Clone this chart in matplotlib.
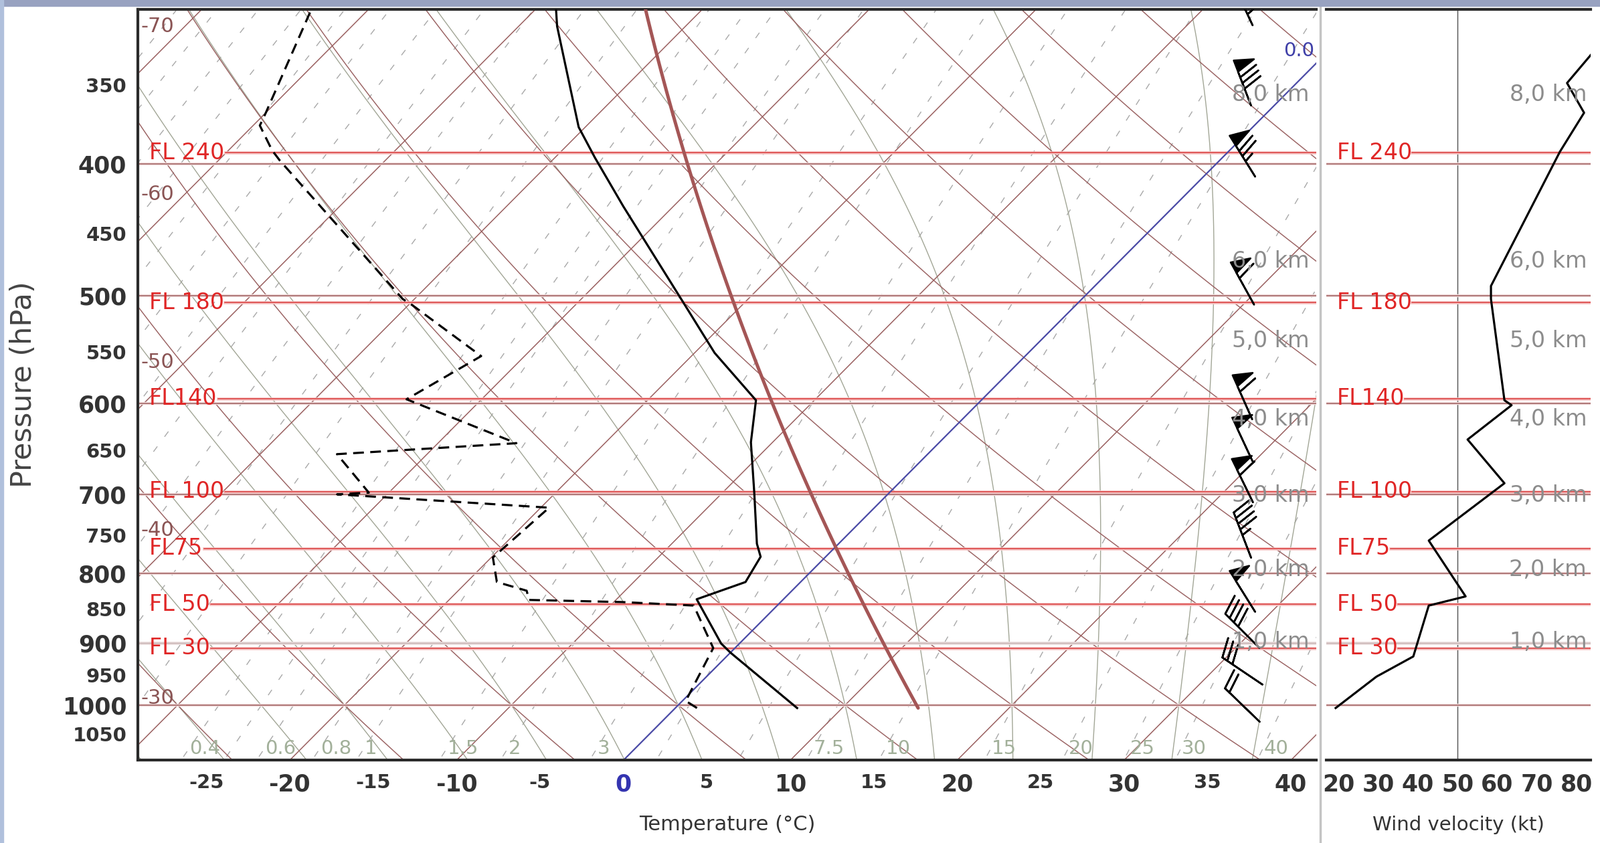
import numpy as np
import matplotlib.pyplot as plt
from matplotlib.lines import Line2D
from matplotlib.patches import Rectangle
from matplotlib.ticker import NullLocator

# temperature sounding (hPa, degC)
temp_p = [1005, 915, 901, 836, 812, 778, 761, 698, 641, 597, 551, 504, 430, 396, 376, 317, 307]
temp_c = [7.3, 0.0, -1.1, -5.2, -3.3, -3.9, -4.9, -8.1, -11.3, -13.5, -18.8, -23.9, -33.0, -37.6, -40.4, -47.7, -48.9]

# dew point (dashed)
dew_p = [1005, 993, 908, 845, 840, 837, 824, 812, 779, 716, 700, 698, 654, 642, 596, 554, 508, 503, 398, 391, 375, 367, 307]
dew_c = [1.3, 0.2, -1.3, -5.0, -9.5, -15.2, -15.9, -18.2, -19.9, -19.5, -33.0, -31.2, -35.4, -25.3, -34.5, -32.6,
         -39.8, -40.7, -56.3, -57.4, -59.6, -60.0, -63.5]

# wind speed profile (right panel)
wind_p = [1005, 953, 921, 845, 832, 757, 687, 638, 602, 597, 503, 492, 392, 367, 349, 332, 305]
wind_kt = [19.2, 29.5, 38.8, 42.7, 52.0, 42.7, 61.8, 52.5, 63.6, 61.8, 58.4, 58.4, 75.8, 81.9, 77.6, 83.9, 92.0]

# wind barbs
barb_p = [1000, 944, 882, 825, 750, 684, 638, 594, 490, 395, 349, 305]
barb_kt = [20, 30, 40, 50, 45, 60, 50, 60, 60, 75, 80, 85]
barb_dir = [314, 304, 315, 328, 339, 334, 335, 336, 331, 328, 339, 335]

# reference levels
fl_levels = [30, 50, 75, 100, 140, 180, 240]
fl_labels = ['FL 30', 'FL 50', 'FL75', 'FL 100', 'FL140', 'FL 180', 'FL 240']
height_km = [1, 2, 3, 4, 5, 6, 8]
height_labels = ['1,0 km', '2,0 km', '3,0 km', '4,0 km', '5,0 km', '6,0 km', '8,0 km']
std_levels = [1000, 900, 800, 700, 600, 500, 400]

p_ticks = [350, 400, 450, 500, 550, 600, 650, 700, 750, 800, 850, 900, 950, 1000, 1050]
t_ticks = [-25, -20, -15, -10, -5, 0, 5, 10, 15, 20, 25, 30, 35, 40]
kt_ticks = [20, 30, 40, 50, 60, 70, 80]
iso_labels = [-70, -60, -50, -40, -30]
mix_labels = [0.4, 0.6, 0.8, 1, 1.5, 2, 3, 7.5, 10, 15, 20, 25, 30, 40]
mix_text = ['0.4', '0.6', '0.8', '1', '1.5', '2', '3', '7.5', '10', '15', '20', '25', '30', '40']

# skew-T geometry
S = 35.2
P_BOT, P_TOP = 1098.0, 308.0
X_LEFT, X_RIGHT = -29.1, 41.53
Rd, Cpd, Lv, EPS = 287.04, 1005.7, 2.501e6, 0.622


def skew(t, p):
    return np.asarray(t) + S * np.log(P_BOT / np.asarray(p, dtype=float))


def dewpoint(e):
    x = np.log(e / 6.112)
    return 243.5 * x / (17.67 - x)


def isa_p(z_m):
    return 1013.25 * (1 - 0.0065 * z_m / 288.15) ** 5.2559


def dtdlnp(T, p):
    es = 6.112 * np.exp(17.67 * (T - 273.15) / (T - 29.65))
    rs = EPS * es / (p - es)
    return (Rd * T + Lv * rs) / (Cpd + Lv * Lv * rs * EPS / (Rd * T * T))


def moist(t0, p):
    T = np.empty(len(p))
    T[0] = t0 + 273.15
    for i in range(1, len(p)):
        h = np.log(p[i] / p[i - 1])
        Ti, pi = T[i - 1], p[i - 1]
        pm = pi * np.exp(0.5 * h)
        k1 = dtdlnp(Ti, pi)
        k2 = dtdlnp(Ti + 0.5 * h * k1, pm)
        k3 = dtdlnp(Ti + 0.5 * h * k2, pm)
        k4 = dtdlnp(Ti + h * k3, p[i])
        T[i] = Ti + h * (k1 + 2 * k2 + 2 * k3 + k4) / 6
    return T - 273.15


fig = plt.figure(figsize=(23.91, 12.6), dpi=100)
ax = fig.add_axes([0.0861, 0.09806, 0.7366, 0.89104])
axw = fig.add_axes([0.82908, 0.09806, 0.16518, 0.89104], sharey=ax)
for a in (ax, axw):
    a.set_yscale('log')
ax.set_ylim(P_BOT, P_TOP)
ax.set_xlim(X_LEFT, X_RIGHT)
axw.set_xlim(16.9, 83.6)

pp = np.geomspace(1120, 290, 200)

# mixing ratio lines (dashed)
extra = np.geomspace(0.004, 90, 30)
mix_lines = list(mix_labels) + [w for w in extra if min(abs(np.log(w / l)) for l in mix_labels) > 0.15]
for w in mix_lines:
    td = dewpoint(pp * w / (622.0 + w))
    ax.plot(skew(td, pp), pp, color='#a8a8a8', lw=1.0, ls=(0, (7, 13)), zorder=1)

# moist adiabats
p_up = np.geomspace(1000, 290, 160)
p_dn = np.geomspace(1000, 1120, 20)
for t0 in range(-40, 45, 5):
    tu = moist(t0, p_up)
    td_ = moist(t0, p_dn)
    pl = np.concatenate([p_dn[::-1], p_up[1:]])
    tl = np.concatenate([td_[::-1], tu[1:]])
    ax.plot(skew(tl, pl), pl, color='#a2a696', lw=1.0, zorder=1)

# dry adiabats
for th in range(-30, 111, 10):
    t = (th + 273.15) * (pp / 1000.0) ** 0.2857 - 273.15
    ax.plot(skew(t, pp), pp, color='#9a6262', lw=1.05, zorder=1.2)

# isotherms
for t in range(-110, 50, 10):
    if t == 0:
        continue
    ax.plot(skew(np.full_like(pp, t), pp), pp, color='#9a6060', lw=1.1, zorder=1.2)
ax.plot(skew(np.zeros_like(pp), pp), pp, color='#4a4aa6', lw=1.6, zorder=2)

# standard pressure levels
for a in (ax, axw):
    for p in std_levels:
        if p == 900:
            a.axhline(p, color='#ebdede', lw=3.5, zorder=1.3)
            a.axhline(p, color='#c4b0b0', lw=1.0, zorder=1.4)
        else:
            a.axhline(p, color='#f3dede', lw=3.2, zorder=1.3)
            a.axhline(p, color='#9c5c5c', lw=1.1, zorder=1.4)

# ISA reference profile
p_isa = np.geomspace(temp_p[0], 290, 120)
t_isa = 288.15 * (p_isa / 1013.25) ** 0.190263 - 273.15
ax.plot(skew(t_isa, p_isa), p_isa, color='#a45656', lw=3.6, zorder=3, solid_capstyle='round')

# sounding
ax.plot(skew(dew_c, dew_p), dew_p, color='black', lw=2.3, ls=(0, (5, 3)), zorder=5)
ax.plot(skew(temp_c, temp_p), temp_p, color='black', lw=2.3, zorder=6)

# wind barbs
spd = np.array(barb_kt, dtype=float)
rad = np.deg2rad(barb_dir)
u = -spd * np.sin(rad)
v = -spd * np.cos(rad)
ax.barbs(np.full(len(barb_p), 37.1), barb_p, u, v, length=10.2, pivot='middle',
         color='black', linewidth=1.9, zorder=7)

# wind profile
axw.plot(wind_kt, wind_p, color='black', lw=2.3, zorder=5)
axw.axvline(50, color='#505050', lw=1.0, zorder=1)

# labels on the grid
for t in iso_labels:
    p_lab = P_BOT / np.exp((X_LEFT + 2.8 - t) / S)
    ax.text(X_LEFT + 0.2, p_lab, str(t), ha='left', va='center', fontsize=22,
            color='#8a5454', zorder=4)

for w, s in zip(mix_labels, mix_text):
    p_lab = 1077.0
    xl = skew(dewpoint(p_lab * w / (622.0 + w)), p_lab)
    ax.text(xl + 0.05, p_lab, s, ha='left', va='center', fontsize=21, color='#a2b09a', zorder=4)

p0 = P_BOT / np.exp(X_RIGHT / S)
ax.annotate('0.0', (X_RIGHT - 0.1, p0), xytext=(0, 13), textcoords='offset points',
            ha='right', va='center', fontsize=21, color='#4040a8', zorder=4)

# flight levels and heights
fig.canvas.draw()
renderer = fig.canvas.get_renderer()
for a, xpos in ((ax, 0.0095), (axw, 0.0386)):
    tr = a.get_yaxis_transform()
    for fl, lab in zip(fl_levels, fl_labels):
        p = isa_p(fl * 100 * 0.3048)
        txt = a.text(xpos, p, lab, transform=tr, ha='left', va='center', fontsize=24,
                     color='#e02626', zorder=8)
        bb = txt.get_window_extent(renderer)
        x1 = a.transAxes.inverted().transform((bb.x1, 0))[0]
        a.axhline(p, xmin=x1 + 0.001, color='#f6c6c6', lw=3.4, zorder=1.5)
        a.axhline(p, xmin=x1 + 0.001, color='#d83a3a', lw=1.1, zorder=1.6)
    xr = 0.9939 if a is ax else 0.9846
    for z, lab in zip(height_km, height_labels):
        a.text(xr, isa_p(z * 1000), lab, transform=tr, ha='right', va='center', fontsize=24,
               color='#8c8c8c', zorder=8)

# axes styling
for a in (ax, axw):
    a.spines['right'].set_visible(False)
    for side in ('top', 'bottom'):
        a.spines[side].set_linewidth(3)
        a.spines[side].set_color('#2a2a2a')
    a.yaxis.set_minor_locator(NullLocator())
    a.xaxis.set_minor_locator(NullLocator())
ax.spines['left'].set_linewidth(3)
ax.spines['left'].set_color('#2a2a2a')
axw.spines['left'].set_visible(False)

ax.set_yticks(p_ticks)
ax.set_yticklabels([str(p) for p in p_ticks])
ax.yaxis.set_minor_locator(NullLocator())
ax.set_ylim(P_BOT, P_TOP)
for lab, p in zip(ax.get_yticklabels(), p_ticks):
    lab.set_fontweight('bold')
    lab.set_color('#333333')
    lab.set_fontsize(25 if p % 100 == 0 else 21)
ax.tick_params(axis='y', length=0, pad=12)

ax.set_xticks(t_ticks)
ax.set_xticklabels([str(t) for t in t_ticks])
for lab, t in zip(ax.get_xticklabels(), t_ticks):
    lab.set_fontweight('bold')
    if t == 0:
        lab.set_color('#3434b0')
        lab.set_fontsize(25)
    elif t % 10 == 0:
        lab.set_color('#333333')
        lab.set_fontsize(25)
    else:
        lab.set_color('#333333')
        lab.set_fontsize(21)
ax.tick_params(axis='x', length=0, pad=14)

axw.set_xticks(kt_ticks)
axw.set_xticklabels([str(k) for k in kt_ticks], fontsize=25, fontweight='bold', color='#333333')
axw.tick_params(axis='x', length=0, pad=14)
axw.tick_params(axis='y', length=0, labelleft=False)

fig.text(0.4544, 0.0218, 'Temperature (°C)', ha='center', va='center', fontsize=22, color='#333333')
fig.text(0.9117, 0.0218, 'Wind velocity (kt)', ha='center', va='center', fontsize=21, color='#333333')
fig.text(0.0145, 0.544, 'Pressure (hPa)', rotation=90, ha='center', va='center', fontsize=31,
         color='#444444')

# window frame bits
fig.add_artist(Line2D([1294 / 1568] * 2, [0, 1], transform=fig.transFigure, color='#c4c4c4', lw=2.5))
fig.patches.append(Rectangle((0, 1 - 6 / 826), 1, 6 / 826, transform=fig.transFigure,
                             color='#98a2c0', zorder=10))
fig.patches.append(Rectangle((0, 0), 3 / 1568, 1, transform=fig.transFigure, color='#b0c0dc', zorder=10))

fig.savefig('out.png', dpi=100)
